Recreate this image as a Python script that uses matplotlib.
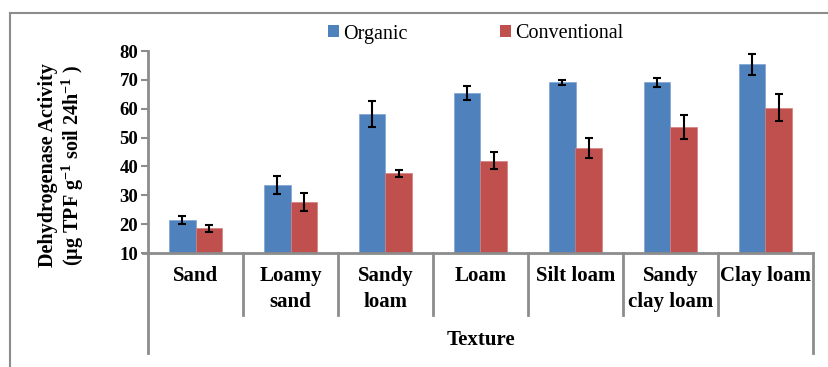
import matplotlib.pyplot as plt
from matplotlib.lines import Line2D
from matplotlib.patches import Patch

plt.rcParams['font.family'] = ['Liberation Serif', 'DejaVu Serif']
plt.rcParams['mathtext.fontset'] = 'custom'
plt.rcParams['mathtext.rm'] = 'Liberation Serif:bold'
plt.rcParams['mathtext.it'] = 'Liberation Serif:bold'
plt.rcParams['mathtext.bf'] = 'Liberation Serif:bold'
plt.rcParams['mathtext.default'] = 'rm'

# data
textures = ['Sand', 'Loamy\nsand', 'Sandy\nloam', 'Loam', 'Silt loam', 'Sandy\nclay loam', 'Clay loam']
organic = [21.5, 33.6, 58.1, 65.3, 69.1, 69.1, 75.4]
organic_err = [1.4, 3.2, 4.4, 2.4, 0.8, 1.7, 3.6]
conventional = [18.6, 27.7, 37.6, 42.0, 46.4, 53.7, 60.4]
conventional_err = [1.2, 3.1, 1.2, 2.9, 3.5, 4.1, 4.7]

blue = '#4F81BD'
red = '#C0504D'
grey = '#8C8C8C'

fig = plt.figure(figsize=(8.29, 3.67), dpi=100)
ax = fig.add_axes([148 / 829, 1 - 253 / 367, (813 - 148) / 829, (253 - 51) / 367])

x = list(range(len(textures)))
w = 0.284
ax.bar([i - w / 2 for i in x], organic, w, bottom=0, color=blue, edgecolor='#7FA3D3', linewidth=0.5,
       yerr=organic_err, error_kw=dict(ecolor='black', elinewidth=1.5, capsize=3, capthick=1.5),
       label='Organic', zorder=2)
ax.bar([i + w / 2 for i in x], conventional, w, bottom=0, color=red, edgecolor='#D47F7D', linewidth=0.5,
       yerr=conventional_err, error_kw=dict(ecolor='black', elinewidth=1.5, capsize=3, capthick=1.5),
       label='Conventional', zorder=2)

ax.set_xlim(-0.5, len(textures) - 0.5)
ax.set_ylim(10, 80)
ax.set_yticks(range(10, 81, 10))
for lbl in ax.get_yticklabels():
    lbl.set_fontweight('bold')
    lbl.set_fontsize(13.5)
ax.tick_params(axis='y', direction='out', length=5, width=1.5, color=grey, pad=2)
ax.tick_params(axis='x', bottom=False, labelbottom=False)

for s in ['top', 'right', 'bottom']:
    ax.spines[s].set_visible(False)
ax.spines['left'].set_color(grey)
ax.spines['left'].set_linewidth(2)

trans = ax.get_xaxis_transform()
# baseline
ax.plot([-0.5 - 0.05, len(textures) - 0.5], [0, 0], transform=trans, color=grey, lw=2, clip_on=False, zorder=3)
# category dividers
for b in range(1, len(textures)):
    ax.plot([b - 0.5, b - 0.5], [0, -0.307], transform=trans, color=grey, lw=2, clip_on=False)
ax.plot([-0.5, -0.5], [0, -0.495], transform=trans, color=grey, lw=2, clip_on=False)
ax.plot([len(textures) - 0.5] * 2, [0, -0.495], transform=trans, color=grey, lw=2, clip_on=False)

for i, t in enumerate(textures):
    ax.text(i, -0.065, t, transform=trans, ha='center', va='top', fontsize=15,
            fontweight='bold', linespacing=1.4)

ax.text(0.5, -0.43, 'Texture', transform=ax.transAxes, ha='center', va='center',
        fontsize=15, fontweight='bold')

fig.text(62 / 829, 1 - 165 / 367,
         'Dehydrogenase Activity\n(µg TPF g$^{-1}$ soil 24h$^{-1}$ )',
         rotation=90, ha='center', va='center', multialignment='center',
         fontsize=14.5, fontweight='bold', linespacing=1.1)

handles = [Patch(facecolor=blue), Patch(facecolor=red)]
fig.legend(handles, ['Organic', 'Conventional'], ncol=2, loc='center',
           bbox_to_anchor=(476 / 829, 1 - 34 / 367), frameon=False, fontsize=14.5,
           handlelength=0.55, handleheight=0.55, handletextpad=0.2, columnspacing=4.6)

# outer frame
fig.add_artist(Line2D([10 / 829, 10 / 829], [0, 1 - 13 / 367], color=grey, lw=1.5))
fig.add_artist(Line2D([10 / 829, 1], [1 - 13 / 367, 1 - 13 / 367], color=grey, lw=1.5))

plt.savefig('out.png', dpi=100)
